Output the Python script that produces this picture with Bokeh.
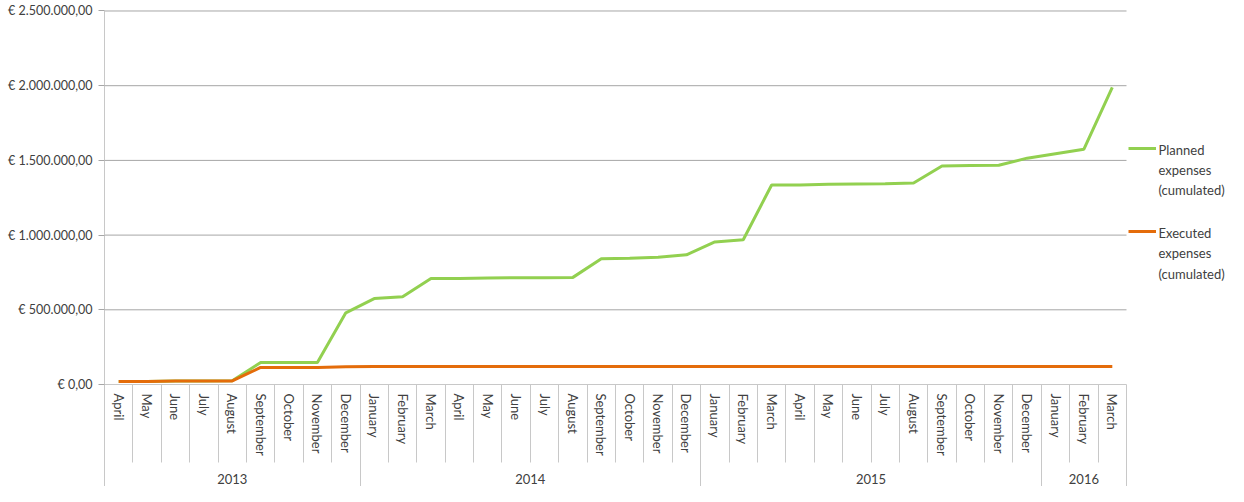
from bokeh.plotting import figure
from bokeh.models import Range1d, LinearAxis, FixedTicker, Legend, LegendItem, Label
from bokeh.embed import file_html
from bokeh.resources import INLINE

months = ["April", "May", "June", "July", "August", "September", "October", "November", "December",
          "January", "February", "March", "April", "May", "June", "July", "August", "September",
          "October", "November", "December",
          "January", "February", "March", "April", "May", "June", "July", "August", "September",
          "October", "November", "December",
          "January", "February", "March"]
years = ["2013", "2014", "2015", "2016"]
year_counts = [9, 12, 12, 3]

planned = [20000, 20000, 24000, 24000, 25000, 147000, 147000, 147000, 480000,
           575000, 588000, 710000, 710000, 713000, 715000, 715000, 717000, 841000,
           845000, 851000, 868000,
           954000, 969000, 1335000, 1335000, 1341000, 1342000, 1343000, 1349000, 1463000,
           1466000, 1467000, 1515000, 1545000, 1575000, 1989000]
executed = [20000, 20000, 24000, 24000, 24000, 114000, 114000, 114000, 118000,
            120000, 120000, 120000, 120000, 120000, 120000, 120000, 120000, 120000,
            120000, 120000, 120000,
            120000, 120000, 120000, 120000, 120000, 120000, 120000, 120000, 120000,
            120000, 120000, 120000, 120000, 120000, 120000]

y_ticks = [0, 500000, 1000000, 1500000, 2000000, 2500000]
y_labels = ["€ 0,00", "€ 500.000,00", "€ 1.000.000,00", "€ 1.500.000,00",
            "€ 2.000.000,00", "€ 2.500.000,00"]

series_names = ["Planned\nexpenses\n(cumulated)", "Executed\nexpenses\n(cumulated)"]

FONT = "Lato"
TXT = "#404040"
GREEN = "#92D050"
ORANGE = "#E46C0A"
GRID = "#a6a6a6"
SEP = "#c8c8c8"

n = len(months)
xs = [i + 0.5 for i in range(n)]

W, H = 1228, 486
LEFT, TOP, BOTTOM = 104, 9, 102
CAT_PX = 1022                       # pixel width of the 36 categories
frame_w = W - LEFT
x_end = n * frame_w / CAT_PX        # room on the right (inside the frame) for the legend
y_top = y_ticks[-1] * 1.004

p = figure(width=W, height=H, output_backend="svg", toolbar_location=None,
           x_range=Range1d(0, x_end), y_range=Range1d(0, y_top),
           x_axis_type=None, y_axis_type=None,
           min_border_left=LEFT, min_border_top=TOP, min_border_bottom=BOTTOM,
           min_border_right=0)
p.outline_line_color = None
p.background_fill_color = "white"
p.border_fill_color = "white"
p.xgrid.visible = False
p.ygrid.visible = False

# y axis
yax = LinearAxis(ticker=FixedTicker(ticks=y_ticks, minor_ticks=[]), bounds=(0, y_ticks[-1]))
yax.major_label_overrides = {t: l for t, l in zip(y_ticks, y_labels)}
yax.axis_line_color = SEP
yax.major_tick_line_color = GRID
yax.major_tick_out = 6
yax.major_tick_in = 0
yax.minor_tick_line_color = None
yax.major_label_standoff = 6
yax.major_label_text_font = FONT
yax.major_label_text_font_size = "12.5px"
yax.major_label_text_color = TXT
p.add_layout(yax, "left")

# horizontal gridlines limited to the category area
gy = y_ticks[1:]
p.segment(x0=[0] * len(gy), x1=[n] * len(gy), y0=gy, y1=gy, line_color=GRID, line_width=1)

# month axis (labels at centres, separators as minor ticks at boundaries)
mticks = FixedTicker(ticks=xs, minor_ticks=list(range(n + 1)))
max_ = LinearAxis(ticker=mticks, bounds=(0, n))
max_.major_label_overrides = {x: m for x, m in zip(xs, months)}
max_.major_label_orientation = "vertical"
max_.axis_line_color = SEP
max_.major_tick_out = 0
max_.major_tick_in = 0
max_.minor_tick_out = 78
max_.minor_tick_in = 0
max_.minor_tick_line_color = SEP
max_.major_label_standoff = -69
max_.major_label_text_font = FONT
max_.major_label_text_font_size = "13px"
max_.major_label_text_color = TXT
p.add_layout(max_, "below")

# year axis
bounds = [0]
for c in year_counts:
    bounds.append(bounds[-1] + c)
ycent = [(bounds[i] + bounds[i + 1]) / 2 for i in range(len(years))]
yrax = LinearAxis(ticker=FixedTicker(ticks=ycent, minor_ticks=bounds), bounds=(0, n))
yrax.major_label_overrides = {c: y for c, y in zip(ycent, years)}
yrax.axis_line_color = None
yrax.major_tick_out = 0
yrax.major_tick_in = 0
yrax.minor_tick_out = 45
yrax.minor_tick_in = 0
yrax.minor_tick_line_color = SEP
yrax.major_label_standoff = -30
yrax.major_label_text_font = FONT
yrax.major_label_text_font_size = "13px"
yrax.major_label_text_color = TXT
p.add_layout(yrax, "below")

r1 = p.line(xs, planned, line_color=GREEN, line_width=3)
r2 = p.line(xs, executed, line_color=ORANGE, line_width=3)

# legend swatches (one legend per series) and multi-line texts
for r, loc in ((r1, (1024, 226)), (r2, (1024, 143))):
    lg = Legend(items=[LegendItem(label=" ", renderers=[r])], location=loc)
    lg.border_line_color = None
    lg.background_fill_alpha = 0
    lg.margin = 0
    lg.padding = 0
    lg.glyph_width = 28
    lg.glyph_height = 20
    lg.label_height = 20
    lg.label_width = 1
    lg.label_standoff = 0
    lg.label_text_font_size = "8px"
    p.add_layout(lg)

text_x = n * (1158 - LEFT) / CAT_PX
for name, ypos in zip(series_names, (1626000, 1068000)):
    p.add_layout(Label(x=text_x, y=ypos, text=name, text_font=FONT, text_font_size="13px",
                       text_color=TXT, text_baseline="top", text_align="left",
                       text_line_height=1.27))

open("out.html", "w").write(file_html(p, INLINE))
